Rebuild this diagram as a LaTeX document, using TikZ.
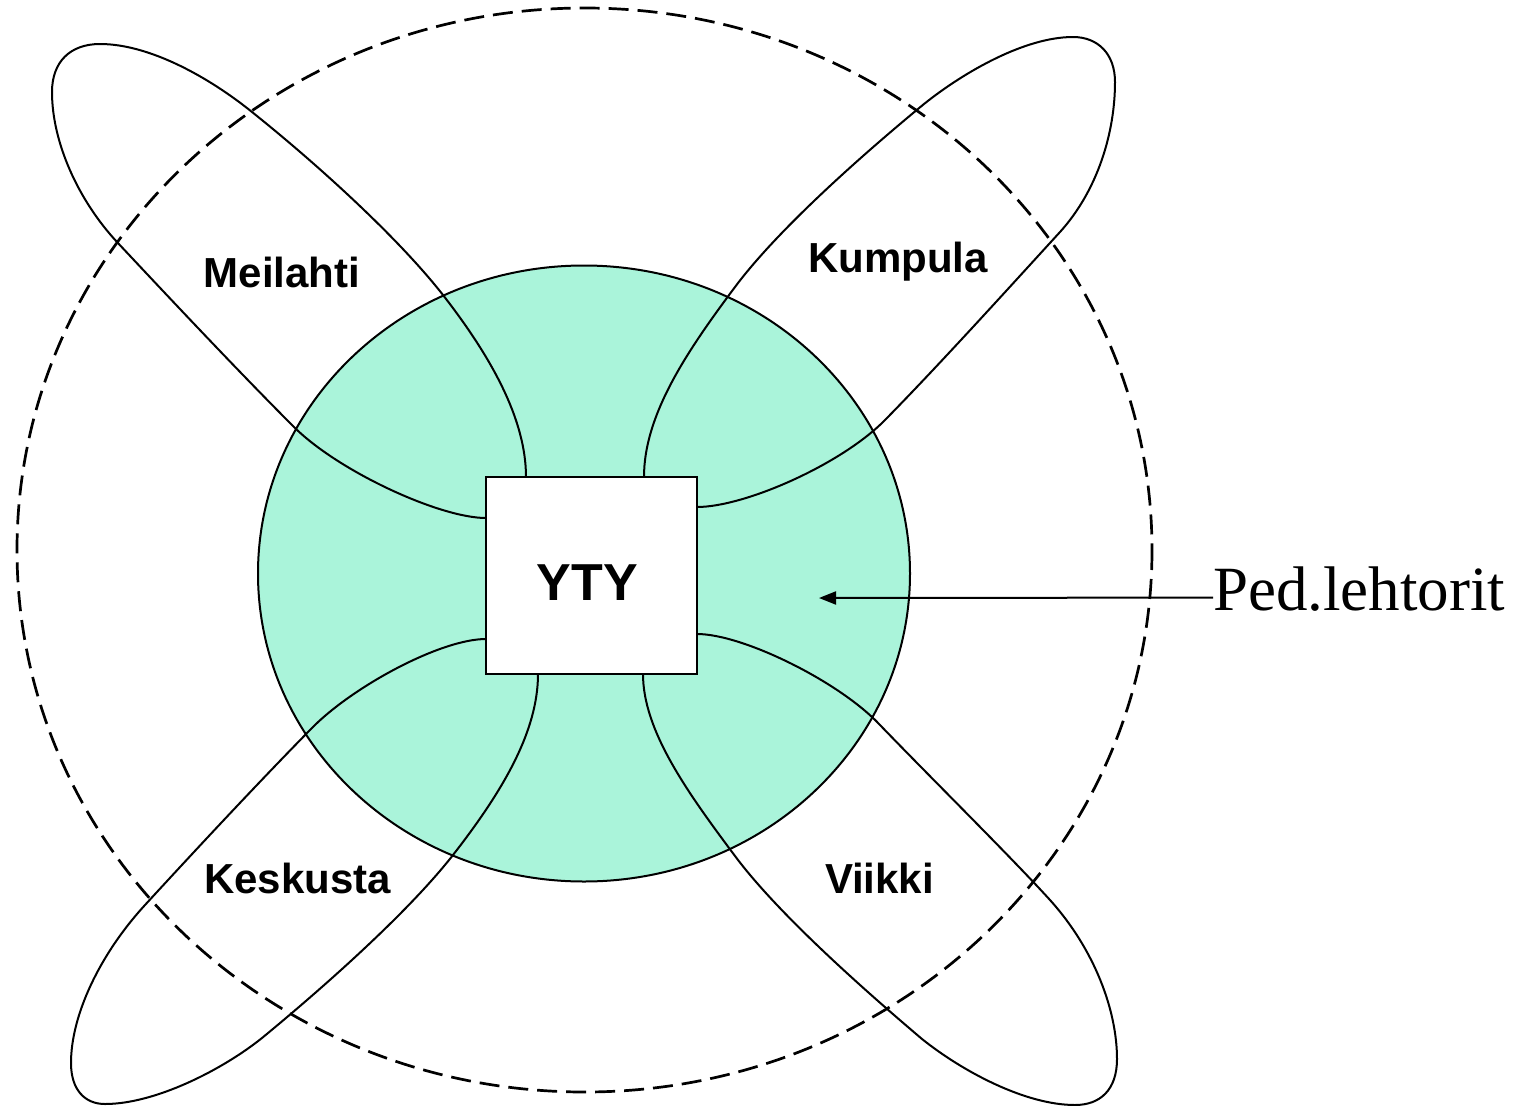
\documentclass[tikz,border=0pt]{standalone}
\usepackage{fontspec}
\setmainfont{Liberation Serif}
\newfontfamily\arialf{Liberation Sans}
\usetikzlibrary{arrows.meta}
\definecolor{mint}{RGB}{170,244,218}
\tikzset{
  petal/.style={draw=black, line width=2pt},
  outerring/.style={draw=black, line width=2.7pt, dash pattern=on 20pt off 9pt},
  core/.style={draw=black, line width=2pt, fill=mint},
  ytybox/.style={draw=black, line width=2.2pt, fill=white},
  campus/.style={font=\arialf\bfseries\fontsize{42}{48}\selectfont, inner sep=0pt, anchor=base},
  pedlabel/.style={font=\fontsize{63}{70}\selectfont, inner sep=0pt, anchor=base west},
  pointer/.style={draw=black, line width=2pt, -{Triangle[length=17pt,width=13pt]}}
}
\begin{document}
\begin{tikzpicture}[x=1pt,y=-1pt]
\useasboundingbox (0,0) rectangle (1532,1106);
% green core circle
\path[core] (584,573.5) ellipse [x radius=326, y radius=308];
% dashed outer ellipse
\path[outerring] (584.5,550) ellipse [x radius=567.5, y radius=542];
% Meilahti petal
\path[petal] (486,518) .. controls (440,518) and (340,472) .. (295,428)
  .. controls (235,368) and (162,290) .. (117,242)
  .. controls (78,200) and (52,142) .. (52,92)
  .. controls (52,62) and (70,44) .. (100,44)
  .. controls (150,44) and (210,78) .. (252,112)
  .. controls (322,168) and (400,240) .. (443,295)
  .. controls (492,358) and (526,420) .. (526,477);
% Kumpula petal
\path[petal] (697,507) .. controls (745,507) and (842,464) .. (885,420)
  .. controls (942,362) and (1016,280) .. (1060,232)
  .. controls (1098,190) and (1115,132) .. (1115,82)
  .. controls (1115,54) and (1098,37) .. (1073,37)
  .. controls (1025,37) and (964,72) .. (924,104)
  .. controls (856,160) and (776,232) .. (735,287)
  .. controls (688,350) and (644,414) .. (644,477);
% Keskusta petal
\path[petal] (486,639) .. controls (440,639) and (350,688) .. (310,730)
  .. controls (255,786) and (190,856) .. (145,905)
  .. controls (100,954) and (71,1015) .. (71,1063)
  .. controls (71,1090) and (85,1104) .. (105,1104)
  .. controls (155,1104) and (222,1070) .. (262,1038)
  .. controls (330,982) and (410,910) .. (453,855)
  .. controls (502,792) and (538,732) .. (538,674);
% Viikki petal
\path[petal] (697,634) .. controls (743,634) and (840,682) .. (880,725)
  .. controls (935,782) and (1010,856) .. (1050,900)
  .. controls (1095,950) and (1117,1011) .. (1117,1059)
  .. controls (1117,1090) and (1100,1105) .. (1075,1105)
  .. controls (1025,1105) and (962,1071) .. (922,1039)
  .. controls (856,983) and (776,911) .. (735,856)
  .. controls (688,793) and (643,731) .. (643,674);
% YTY box
\node[ytybox, minimum width=211pt, minimum height=197pt, inner sep=0pt] (yty) at (591.5,575.5) {};
\node[campus, font=\arialf\bfseries\fontsize{52}{60}\selectfont] (ytytext) at (587.5,600) {YTY};
% campus labels
\node[campus] (meilahti) at (282,287) {Meilahti};
\node[campus] (kumpula) at (898,272) {Kumpula};
\node[campus] (keskusta) at (297.5,893) {Keskusta};
\node[campus] (viikki) at (879.5,893) {Viikki};
% Ped.lehtorit label and arrow
\node[pedlabel] (ped) at (1213,610) {Ped.lehtorit};
\coordinate (tip) at (819,598);
\draw[pointer] ([yshift=-9pt]ped.west) -- (tip);
\end{tikzpicture}
\end{document}
